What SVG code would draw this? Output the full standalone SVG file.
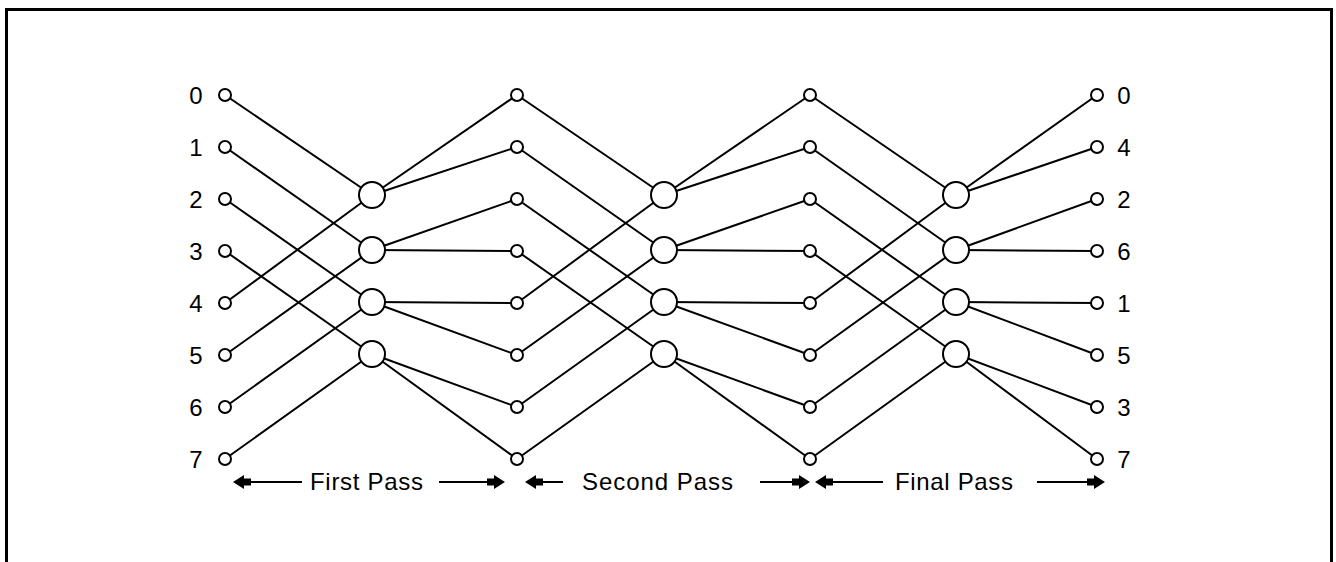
<svg xmlns="http://www.w3.org/2000/svg" xmlns:xlink="http://www.w3.org/1999/xlink" width="1336" height="562" viewBox="0 0 1336 562">
  <style>
    .edge { stroke: #000; stroke-width: 2; fill: none; }
    .pt { fill: #fff; stroke: #000; stroke-width: 2; }
    .hub { fill: #fff; stroke: #000; stroke-width: 2; }
    .idx { font-family: "Liberation Sans", Arial, sans-serif; font-size: 24px; fill: #000; text-anchor: middle; }
    .pass { font-family: "Liberation Sans", Arial, sans-serif; font-size: 24px; fill: #000; }
  </style>
  <defs>
    <!-- filled arrowhead, tip at origin, pointing right -->
    <path id="arr" d="M0,0 L-11,-7 L-11,-3.5 L-18,-3.5 L-18,3.5 L-11,3.5 L-11,7 Z" fill="#000"/>
  </defs>

  <rect x="0" y="0" width="1336" height="562" fill="#fff"/>
  <rect x="6.5" y="9.5" width="1325" height="600" fill="none" stroke="#000" stroke-width="3"/>

  <!-- butterfly connectors -->
  <g id="connectors" class="edge">
    <!-- first pass -->
    <line x1="225" y1="95" x2="372" y2="195"/>
    <line x1="225" y1="147" x2="372" y2="250"/>
    <line x1="225" y1="199" x2="372" y2="302"/>
    <line x1="225" y1="251" x2="372" y2="354"/>
    <line x1="225" y1="303" x2="372" y2="195"/>
    <line x1="225" y1="355" x2="372" y2="250"/>
    <line x1="225" y1="407" x2="372" y2="302"/>
    <line x1="225" y1="459" x2="372" y2="354"/>
    <line x1="372" y1="195" x2="517" y2="95"/>
    <line x1="372" y1="195" x2="517" y2="147"/>
    <line x1="372" y1="250" x2="517" y2="199"/>
    <line x1="372" y1="250" x2="517" y2="251"/>
    <line x1="372" y1="302" x2="517" y2="303"/>
    <line x1="372" y1="302" x2="517" y2="355"/>
    <line x1="372" y1="354" x2="517" y2="407"/>
    <line x1="372" y1="354" x2="517" y2="459"/>
    <!-- second pass -->
    <line x1="517" y1="95" x2="664" y2="195"/>
    <line x1="517" y1="147" x2="664" y2="250"/>
    <line x1="517" y1="199" x2="664" y2="302"/>
    <line x1="517" y1="251" x2="664" y2="354"/>
    <line x1="517" y1="303" x2="664" y2="195"/>
    <line x1="517" y1="355" x2="664" y2="250"/>
    <line x1="517" y1="407" x2="664" y2="302"/>
    <line x1="517" y1="459" x2="664" y2="354"/>
    <line x1="664" y1="195" x2="810" y2="95"/>
    <line x1="664" y1="195" x2="810" y2="147"/>
    <line x1="664" y1="250" x2="810" y2="199"/>
    <line x1="664" y1="250" x2="810" y2="251"/>
    <line x1="664" y1="302" x2="810" y2="303"/>
    <line x1="664" y1="302" x2="810" y2="355"/>
    <line x1="664" y1="354" x2="810" y2="407"/>
    <line x1="664" y1="354" x2="810" y2="459"/>
    <!-- final pass -->
    <line x1="810" y1="95" x2="956" y2="195"/>
    <line x1="810" y1="147" x2="956" y2="250"/>
    <line x1="810" y1="199" x2="956" y2="302"/>
    <line x1="810" y1="251" x2="956" y2="354"/>
    <line x1="810" y1="303" x2="956" y2="195"/>
    <line x1="810" y1="355" x2="956" y2="250"/>
    <line x1="810" y1="407" x2="956" y2="302"/>
    <line x1="810" y1="459" x2="956" y2="354"/>
    <line x1="956" y1="195" x2="1097" y2="95"/>
    <line x1="956" y1="195" x2="1097" y2="147"/>
    <line x1="956" y1="250" x2="1097" y2="199"/>
    <line x1="956" y1="250" x2="1097" y2="251"/>
    <line x1="956" y1="302" x2="1097" y2="303"/>
    <line x1="956" y1="302" x2="1097" y2="355"/>
    <line x1="956" y1="354" x2="1097" y2="407"/>
    <line x1="956" y1="354" x2="1097" y2="459"/>
  </g>

  <!-- input column -->
  <g id="in0"><circle class="pt" cx="225" cy="95" r="6"/><text class="idx" x="196" y="104">0</text></g>
  <g id="in1"><circle class="pt" cx="225" cy="147" r="6"/><text class="idx" x="196" y="156">1</text></g>
  <g id="in2"><circle class="pt" cx="225" cy="199" r="6"/><text class="idx" x="196" y="208">2</text></g>
  <g id="in3"><circle class="pt" cx="225" cy="251" r="6"/><text class="idx" x="196" y="260">3</text></g>
  <g id="in4"><circle class="pt" cx="225" cy="303" r="6"/><text class="idx" x="196" y="312">4</text></g>
  <g id="in5"><circle class="pt" cx="225" cy="355" r="6"/><text class="idx" x="196" y="364">5</text></g>
  <g id="in6"><circle class="pt" cx="225" cy="407" r="6"/><text class="idx" x="196" y="416">6</text></g>
  <g id="in7"><circle class="pt" cx="225" cy="459" r="6"/><text class="idx" x="196" y="468">7</text></g>

  <!-- first pass butterflies -->
  <g id="b1_0"><circle class="hub" cx="372" cy="195" r="13"/></g>
  <g id="b1_1"><circle class="hub" cx="372" cy="250" r="13"/></g>
  <g id="b1_2"><circle class="hub" cx="372" cy="302" r="13"/></g>
  <g id="b1_3"><circle class="hub" cx="372" cy="354" r="13"/></g>

  <!-- after first pass -->
  <g id="m1_0"><circle class="pt" cx="517" cy="95" r="6"/></g>
  <g id="m1_1"><circle class="pt" cx="517" cy="147" r="6"/></g>
  <g id="m1_2"><circle class="pt" cx="517" cy="199" r="6"/></g>
  <g id="m1_3"><circle class="pt" cx="517" cy="251" r="6"/></g>
  <g id="m1_4"><circle class="pt" cx="517" cy="303" r="6"/></g>
  <g id="m1_5"><circle class="pt" cx="517" cy="355" r="6"/></g>
  <g id="m1_6"><circle class="pt" cx="517" cy="407" r="6"/></g>
  <g id="m1_7"><circle class="pt" cx="517" cy="459" r="6"/></g>

  <!-- second pass butterflies -->
  <g id="b2_0"><circle class="hub" cx="664" cy="195" r="13"/></g>
  <g id="b2_1"><circle class="hub" cx="664" cy="250" r="13"/></g>
  <g id="b2_2"><circle class="hub" cx="664" cy="302" r="13"/></g>
  <g id="b2_3"><circle class="hub" cx="664" cy="354" r="13"/></g>

  <!-- after second pass -->
  <g id="m2_0"><circle class="pt" cx="810" cy="95" r="6"/></g>
  <g id="m2_1"><circle class="pt" cx="810" cy="147" r="6"/></g>
  <g id="m2_2"><circle class="pt" cx="810" cy="199" r="6"/></g>
  <g id="m2_3"><circle class="pt" cx="810" cy="251" r="6"/></g>
  <g id="m2_4"><circle class="pt" cx="810" cy="303" r="6"/></g>
  <g id="m2_5"><circle class="pt" cx="810" cy="355" r="6"/></g>
  <g id="m2_6"><circle class="pt" cx="810" cy="407" r="6"/></g>
  <g id="m2_7"><circle class="pt" cx="810" cy="459" r="6"/></g>

  <!-- final pass butterflies -->
  <g id="b3_0"><circle class="hub" cx="956" cy="195" r="13"/></g>
  <g id="b3_1"><circle class="hub" cx="956" cy="250" r="13"/></g>
  <g id="b3_2"><circle class="hub" cx="956" cy="302" r="13"/></g>
  <g id="b3_3"><circle class="hub" cx="956" cy="354" r="13"/></g>

  <!-- output column (bit-reversed order) -->
  <g id="out0"><circle class="pt" cx="1097" cy="95" r="6"/><text class="idx" x="1124" y="104">0</text></g>
  <g id="out1"><circle class="pt" cx="1097" cy="147" r="6"/><text class="idx" x="1124" y="156">4</text></g>
  <g id="out2"><circle class="pt" cx="1097" cy="199" r="6"/><text class="idx" x="1124" y="208">2</text></g>
  <g id="out3"><circle class="pt" cx="1097" cy="251" r="6"/><text class="idx" x="1124" y="260">6</text></g>
  <g id="out4"><circle class="pt" cx="1097" cy="303" r="6"/><text class="idx" x="1124" y="312">1</text></g>
  <g id="out5"><circle class="pt" cx="1097" cy="355" r="6"/><text class="idx" x="1124" y="364">5</text></g>
  <g id="out6"><circle class="pt" cx="1097" cy="407" r="6"/><text class="idx" x="1124" y="416">3</text></g>
  <g id="out7"><circle class="pt" cx="1097" cy="459" r="6"/><text class="idx" x="1124" y="468">7</text></g>

  <!-- pass span markers -->
  <g id="pass-labels">
    <line class="edge" x1="245" y1="482" x2="302" y2="482"/>
    <use xlink:href="#arr" transform="translate(233,482) scale(-1,1)"/>
    <text class="pass" x="310" y="490" textLength="113" lengthAdjust="spacing">First Pass</text>
    <line class="edge" x1="439" y1="482" x2="493" y2="482"/>
    <use xlink:href="#arr" transform="translate(505,482)"/>

    <line class="edge" x1="537" y1="482" x2="563" y2="482"/>
    <use xlink:href="#arr" transform="translate(525,482) scale(-1,1)"/>
    <text class="pass" x="582" y="490" textLength="151" lengthAdjust="spacing">Second Pass</text>
    <line class="edge" x1="760" y1="482" x2="798" y2="482"/>
    <use xlink:href="#arr" transform="translate(810,482)"/>

    <line class="edge" x1="827" y1="482" x2="883" y2="482"/>
    <use xlink:href="#arr" transform="translate(815,482) scale(-1,1)"/>
    <text class="pass" x="895" y="490" textLength="118" lengthAdjust="spacing">Final Pass</text>
    <line class="edge" x1="1037" y1="482" x2="1093" y2="482"/>
    <use xlink:href="#arr" transform="translate(1105,482)"/>
  </g>
</svg>
